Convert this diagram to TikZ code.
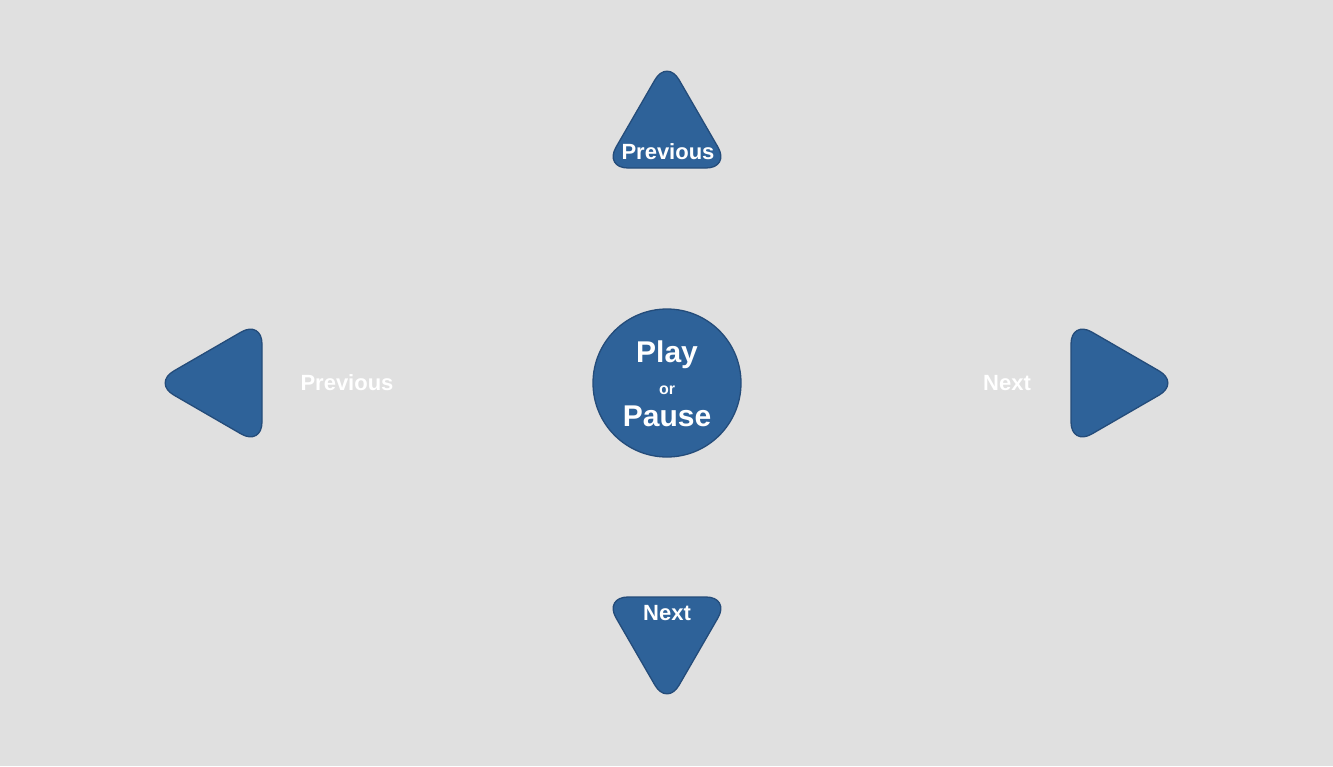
\documentclass[tikz,border=0pt]{standalone}
\usepackage{fontspec}
\setmainfont{Liberation Sans}
\definecolor{padblue}{RGB}{46,98,153}
\definecolor{padedge}{RGB}{36,76,122}
\definecolor{padbg}{RGB}{224,224,224}
\begin{document}
\begin{tikzpicture}[x=1pt,y=-1pt,
  arrowkey/.style = {draw=padedge,fill=padblue,line width=1.3pt,rounded corners=24pt},
  centre/.style = {circle,minimum size=148pt,inner sep=0pt,draw=padedge,
  fill=padblue,line width=1.3pt},
  lbl/.style = {text=white,inner sep=0pt,font=\bfseries\fontsize{22}{24}\selectfont},
  big/.style = {lbl,anchor=base,font=\bfseries\fontsize{30}{32}\selectfont}]
 \fill[padbg] (0,0) rectangle (1333,766);
 % arrow keys
 \draw[arrowkey] (667,168) -- (730,168) -- (667,59) -- (604,168) -- cycle;
 \draw[arrowkey] (667,597) -- (730,597) -- (667,706) -- (604,597) -- cycle;
 \draw[arrowkey] (262,383) -- (262,446) -- (153,383) -- (262,320) -- cycle;
 \draw[arrowkey] (1071,383) -- (1071,320) -- (1180,383) -- (1071,446) -- cycle;
 \node[centre] (pp) at (667,383) {};
 % labels
 \node[lbl] (uplbl) at (668,152) {Previous};
 \node[lbl] (downlbl) at (667,613) {Next};
 \node[lbl] (leftlbl) at (347,383) {Previous};
 \node[lbl] (rightlbl) at (1007,383) {Next};
 \node[big] (play) at (667,362) {Play};
 \node[lbl,anchor=base,font=\bfseries\fontsize{16}{18}\selectfont] (or) at (667,394) {or};
 \node[big] (pause) at (667,426) {Pause};
\end{tikzpicture}
\end{document}
